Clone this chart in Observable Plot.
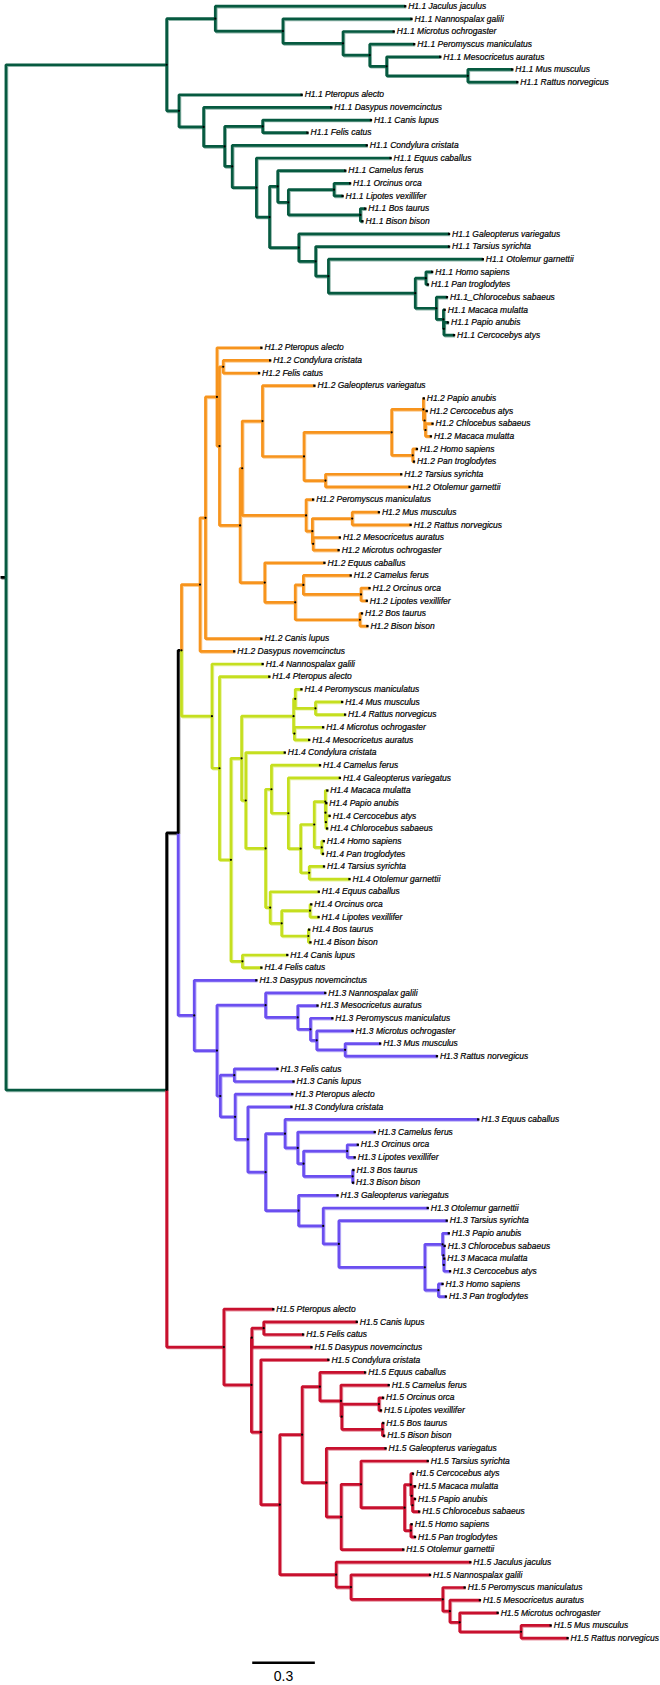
<!DOCTYPE html>
<html><head><meta charset="utf-8">
<script src="https://cdn.jsdelivr.net/npm/d3@7"></script>
<script src="https://cdn.jsdelivr.net/npm/@observablehq/plot@0.6"></script>
<style>body{margin:0;background:#fff}#chart svg{display:block}</style>
</head><body><div id="chart"></div>
<script>
// ---- data ----
const groups = ["H1.1", "H1.2", "H1.4", "H1.3", "H1.5", "backbone"];
const groupColors = ["#065a40", "#f7941d", "#c5df1f", "#6b4ff0", "#c8102e", "#000000"];
const edgeOverrides = [["B", "H1.1"]];
const rootEdge = 0.026;
const scaleBarLength = 0.3;
const scaleBarLabel = "0.3";

// H1.1
const h11Rodents = "(Jaculus jaculus:0.910,(Nannospalax galili:0.616,(Microtus ochrogaster:0.243,(Peromyscus maniculatus:0.213,(Mesocricetus auratus:0.257,(Mus musculus:0.213,Rattus norvegicus:0.237):0.389):0.081):0.128):0.288):0.324):0.233";
const h11Cetartio = "(Camelus ferus:0.324,((Orcinus orca:0.077,Lipotes vexillifer:0.041):0.219,(Bos taurus:0.024,Bison bison:0.010):0.345):0.051):0.039";
const h11Primates = "(Galeopterus variegatus:0.720,(Tarsius syrichta:0.639,(Otolemur garnettii:0.740,((Homo sapiens:0.030,Pan troglodytes:0.010):0.051,(_Chlorocebus sabaeus:0.051,(Macaca mulatta:0.006,(Papio anubis:0.020,Cercocebys atys:0.049):0.002):0.034):0.101):0.416):0.061):0.081):0.140";
const h11Other = `(Pteropus alecto:0.588,(Dasypus novemcinctus:0.612,((Canis lupus:0.519,Felis catus:0.215):0.182,(Condylura cristata:0.645,(Equus caballus:0.643,(${h11Cetartio},${h11Primates}):0.063):0.116):0.036):0.101):0.118):0.059`;
const h11 = `(${h11Rodents},${h11Other})H1.1:0.770`;

// H1.2
const h12Primates = "(Galeopterus variegatus:0.249,(((Papio anubis:0.002,(Cercocebus atys:0.010,(Chlocebus sabaeus:0.034,Macaca mulatta:0.026):0.004):0.006):0.152,(Homo sapiens:0.020,Pan troglodytes:0.006):0.101):0.420,(Tarsius syrichta:0.363,Otolemur garnettii:0.403):0.103):0.199):0.097";
const h12Rodents = "(Peromyscus maniculatus:0.034,((Mus musculus:0.128,Rattus norvegicus:0.280):0.191,(Mesocricetus auratus:0.128,Microtus ochrogaster:0.122):0.004):0.030):0.306";
const h12Laur = "(Equus caballus:0.286,((Camelus ferus:0.227,(Orcinus orca:0.041,Lipotes vexillifer:0.028):0.276):0.039,(Bos taurus:0.010,Bison bison:0.036):0.310):0.146):0.118";
const h12 = `(((Pteropus alecto:0.213,((Condylura cristata:0.225,Felis catus:0.172):0.018,((${h12Primates},${h12Rodents}):0.010,${h12Laur}):0.099):0.012):0.055,Canis lupus:0.268):0.026,Dasypus novemcinctus:0.164)H1.2:0.089`;

// H1.4
const h14Rodents = "((Peromyscus maniculatus:0.030,(Mus musculus:0.128,Rattus norvegicus:0.142):0.097):0.008,(Microtus ochrogaster:0.138,Mesocricetus auratus:0.071):0.004):0.249";
const h14Primates = "(Galeopterus variegatus:0.247,(((Macaca mulatta:0.010,(Papio anubis:0.004,(Cercocebus atys:0.018,Chlorocebus sabaeus:0.006):0.002):0.001):0.053,(Homo sapiens:0.010,Pan troglodytes:0.006):0.036):0.065,(Tarsius syrichta:0.071,Otolemur garnettii:0.193):0.041):0.059):0.081";
const h14Camel = `(Camelus ferus:0.233,${h14Primates}):0.028`;
const h14Laur = "(Equus caballus:0.233,((Orcinus orca:0.006,Lipotes vexillifer:0.041):0.136,(Bos taurus:0.004,Bison bison:0.010):0.128):0.055):0.022";
const h14 = `(Nannospalax galili:0.243,(Pteropus alecto:0.239,((${h14Rodents},(Condylura cristata:0.187,(${h14Camel},${h14Laur}):0.095):0.020):0.051,(Canis lupus:0.215,Felis catus:0.091):0.055):0.055):0.036)H1.4:0.146`;

// H1.3
const h13Rodents = "(Nannospalax galili:0.286,(Mesocricetus auratus:0.095,(Peromyscus maniculatus:0.105,(Microtus ochrogaster:0.172,(Mus musculus:0.168,Rattus norvegicus:0.440):0.136):0.030):0.061):0.154):0.233";
const h13Laur = "(Equus caballus:0.926,(Camelus ferus:0.369,((Orcinus orca:0.051,Lipotes vexillifer:0.036):0.209,(Bos taurus:0.004,Bison bison:0.002):0.235):0.028):0.061):0.093";
const h13Primates = "(Galeopterus variegatus:0.187,(Otolemur garnettii:0.501,(Tarsius syrichta:0.517,((Papio anubis:0.030,(Chlorocebus sabaeus:0.006,(Macaca mulatta:0.002,Cercocebus atys:0.030):0.002):0.004):0.085,(Homo sapiens:0.020,Pan troglodytes:0.036):0.065):0.412):0.075):0.118):0.158";
const h13Other = `((Felis catus:0.207,Canis lupus:0.284):0.067,(Pteropus alecto:0.274,(Condylura cristata:0.209,(${h13Laur},${h13Primates}):0.085):0.061):0.071):0.016`;
const h13 = `(Dasypus novemcinctus:0.298,(${h13Rodents},${h13Other}):0.109)H1.3:0.077`;

// H1.5
const h15Carn = "((Canis lupus:0.446,Felis catus:0.189):0.057,Dasypus novemcinctus:0.286):0.002";
const h15Laur = "(Equus caballus:0.217,(Camelus ferus:0.229,((Orcinus orca:0.020,Lipotes vexillifer:0.010):0.178,(Bos taurus:0.004,Bison bison:0.008):0.195):0.004):0.101):0.085";
const h15Primates = "(Galeopterus variegatus:0.284,((Tarsius syrichta:0.320,((Cercocebus atys:0.010,(Macaca mulatta:0.016,(Papio anubis:0.012,Chlorocebus sabaeus:0.032):0.004):0.004):0.030,(Homo sapiens:0.004,Pan troglodytes:0.020):0.030):0.209):0.095,Otolemur garnettii:0.298):0.071):0.116";
const h15Rodents = "(Jaculus jaculus:0.643,(Nannospalax galili:0.379,(Peromyscus maniculatus:0.105,(Mesocricetus auratus:0.144,(Microtus ochrogaster:0.182,(Mus musculus:0.142,Rattus norvegicus:0.223):0.294):0.047):0.034):0.440):0.071):0.270";
const h15 = `(Pteropus alecto:0.237,(${h15Carn},(Condylura cristata:0.324,((${h15Laur},${h15Primates}):0.107,${h15Rodents}):0.091):0.045):0.132)H1.5:0.274`;

const newick = `(${h11},(((${h12},${h14})D:0.016,${h13})C:0.055,${h15})B:0.770)root:${rootEdge};`;

// ---- parse & layout ----
function parseNewick(s) {
  let i = 0;
  function node() {
    const n = {children: [], name: "", length: 0};
    if (s[i] === "(") {
      i++;
      n.children.push(node());
      while (s[i] === ",") { i++; n.children.push(node()); }
      i++;
    }
    let name = "";
    while (i < s.length && !",():;".includes(s[i])) name += s[i++];
    n.name = name.trim();
    if (s[i] === ":") {
      i++;
      let num = "";
      while (i < s.length && !",();".includes(s[i])) num += s[i++];
      n.length = +num;
    }
    return n;
  }
  return node();
}
const root = parseNewick(newick);
let leafIndex = 0;
const nodes = [];
function layout(n, parent, group, depth) {
  n.x = depth; n.parent = parent;
  n.group = groups.includes(n.name) ? n.name : group;
  nodes.push(n);
  if (!n.children.length) n.y = leafIndex++;
  else {
    n.children.forEach(c => layout(c, n, n.group, depth + c.length));
    n.y = (n.children[0].y + n.children[n.children.length - 1].y) / 2;
  }
}
layout(root, null, "backbone", 0);
const overrides = new Map(edgeOverrides);
const edges = [{x1: -root.length, y1: root.y, x2: 0, y2: root.y, group: "backbone"}];
for (const n of nodes) {
  if (!n.parent) continue;
  edges.push({x1: n.parent.x, y1: n.parent.y, x2: n.x, y2: n.y, group: overrides.get(n.name) ?? n.group});
}
const leaves = nodes.filter(n => !n.children.length).map(n => ({
  x: n.x, y: n.y,
  label: n.group + (n.name.startsWith("_") ? "" : " ") + n.name
}));
const internal = nodes.filter(n => n.children.length && n.parent);
const nLeaves = leaves.length;

const scaleStart = 1.18;
const bar = [{x1: scaleStart, x2: scaleStart + scaleBarLength, y: nLeaves + 0.95, ly: nLeaves + 2.05}];

const font = "Liberation Sans, Arial, sans-serif";
const chart = Plot.plot({
  width: 660, height: 1685,
  x: {domain: [-rootEdge, 3.0], range: [0, 631.6], axis: null},
  y: {domain: [0, nLeaves - 1], range: [5.7, 1637.6], axis: null},
  color: {domain: groups, range: groupColors},
  marks: [
    Plot.link(edges, {x1: "x1", y1: "y1", x2: "x2", y2: "y2", curve: "step-before",
      stroke: "group", strokeWidth: 2.6, strokeOpacity: 0.45, dx: 1, dy: 1}),
    Plot.link(edges, {x1: "x1", y1: "y1", x2: "x2", y2: "y2", curve: "step-before",
      stroke: "group", strokeWidth: 2.7, strokeLinejoin: "miter"}),
    Plot.dot(internal, {x: "x", y: "y", r: 1.1, fill: "black"}),
    Plot.dot(leaves, {x: "x", y: "y", r: 1.3, symbol: "square", fill: "black"}),
    Plot.text(leaves, {x: "x", y: "y", text: "label", dx: 3, textAnchor: "start",
      fontSize: 8.5, fontStyle: "italic", fontFamily: font, fill: "black",
      stroke: "black", strokeWidth: 0.2}),
    Plot.link(bar, {x1: "x1", x2: "x2", y1: "y", y2: "y", stroke: "black", strokeWidth: 2.7}),
    Plot.text(bar, {x: d => (d.x1 + d.x2) / 2, y: "ly", text: () => scaleBarLabel,
      fontSize: 14, fontFamily: font, fill: "black"})
  ]
});
document.getElementById("chart").appendChild(chart);
</script>
</body></html>
